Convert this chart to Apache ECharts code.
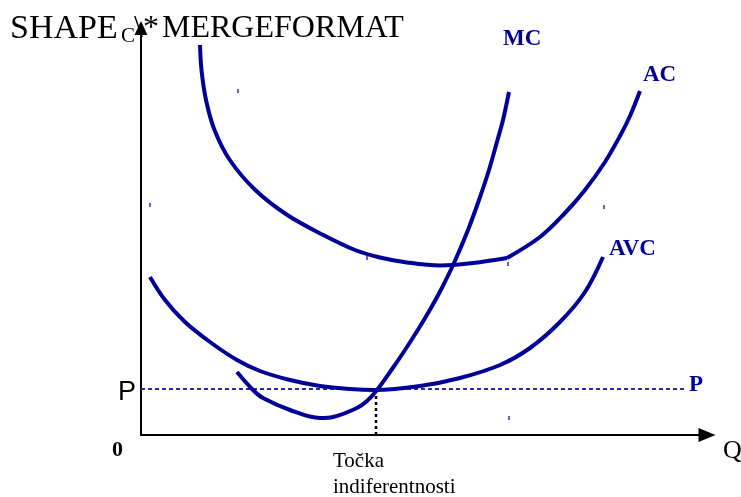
<!DOCTYPE html>
<html><head><meta charset="utf-8">
<script src="https://cdn.jsdelivr.net/npm/echarts@6/dist/echarts.min.js"></script>
<style>html,body{margin:0;padding:0;background:#fff}#c{width:741px;height:497px}</style>
</head><body><div id="c"></div>
<script>
// Chart units: x = quantity (0..566), y = cost (0..407)
const acData = [[59,390],[60.5,365],[65,335],[73.5,305],[88.8,275],[114.3,245],[146.3,220],[182.3,200],[214,185],[239,177.5],[266,172.5],[299,169.5],[332,172],[366,177],[399,198],[424,222],[444,245],[464,273],[479,299],[489,319],[499,344]];
const acKinkIndex = 13; // the AC curve has a visible corner at this point
const mcData = [[96,63],[112,45],[122,37],[149,25],[179,17],[192,18],[216,27],[226,34],[236,45],[250.4,65],[264,85],[276.8,105],[288.8,125],[299.8,145],[313,172],[327,205],[338,235],[348,265],[356.5,295],[362,315],[368,343]];
const avcData = [[9,158],[24,135],[44,113],[69,93],[96,75],[119,64],[149,55],[179,49],[209,46],[234,45],[279,49],[319,57],[359,70],[389,87],[419,113],[444,143],[462,178]];
const priceLine = [[0,46],[544,46]];
const indiffLine = [[235,0],[235,45]];
const stray = [[97,344],[9,230],[226,177],[367,171],[368,17],[463,228],[501,430]];
const labels = {mc:'MC', ac:'AC', avc:'AVC', p:'P'};

const navy = '#000099';
const serif = 'Liberation Serif';
const sm = 0.35;
const chart = echarts.init(document.getElementById('c'), null, {renderer:'canvas'});
function txt(x, y, s, size, opts) {
  return {type:'text', x:x, y:y, style:Object.assign({text:s, fontFamily:serif, fontSize:size, fill:'#000', verticalAlign:'middle', align:'left'}, opts||{})};
}
function curve(data) {
  return {type:'line', data:data, symbol:'none', smooth:sm, z:3, lineStyle:{color:navy, width:4, cap:'butt'}};
}
chart.setOption({
  animation:false,
  grid:{left:141, right:34, top:28, bottom:62},
  xAxis:{type:'value', min:0, max:566, axisLine:{show:true, symbol:['none','triangle'], symbolSize:[14,17], lineStyle:{color:'#000', width:2}}, axisTick:{show:false}, axisLabel:{show:false}, splitLine:{show:false}},
  yAxis:{type:'value', min:0, max:407, axisLine:{show:true, symbol:['none','triangle'], symbolSize:[13,14], lineStyle:{color:'#000', width:2}}, axisTick:{show:false}, axisLabel:{show:false}, splitLine:{show:false}},
  series:[
    {type:'line', data:priceLine, symbol:'none', z:1, lineStyle:{color:'#2b2ba8', width:2, type:[4,3]}},
    {type:'line', data:indiffLine, symbol:'none', z:1, lineStyle:{color:'#000', width:2.5, type:[3,3]}},
    curve(acData.slice(0, acKinkIndex + 1)),
    curve(acData.slice(acKinkIndex)),
    curve(mcData),
    curve(avcData),
    {type:'scatter', data:stray, symbol:'rect', symbolSize:[2,4], z:2, itemStyle:{color:'#3a3ab8'}}
  ],
  graphic:[
    txt(10, 29, 'SHAPE', 34),
    txt(121, 36, 'C', 21),
    txt(134, 29, '\\*', 32),
    txt(162, 29, 'MERGEFORMAT', 32),
    txt(503, 39, labels.mc, 23, {fill:navy, fontWeight:'bold'}),
    txt(643, 75, labels.ac, 23, {fill:navy, fontWeight:'bold'}),
    txt(609, 249, labels.avc, 23, {fill:navy, fontWeight:'bold'}),
    txt(689, 385, labels.p, 23, {fill:navy, fontWeight:'bold'}),
    txt(118, 393, 'P', 27, {fontFamily:'Liberation Sans'}),
    txt(112, 450, '0', 22, {fontWeight:'bold'}),
    txt(723, 451, 'Q', 26),
    txt(333, 461, 'Točka', 21),
    txt(333, 487, 'indiferentnosti', 21)
  ]
});
</script></body></html>
